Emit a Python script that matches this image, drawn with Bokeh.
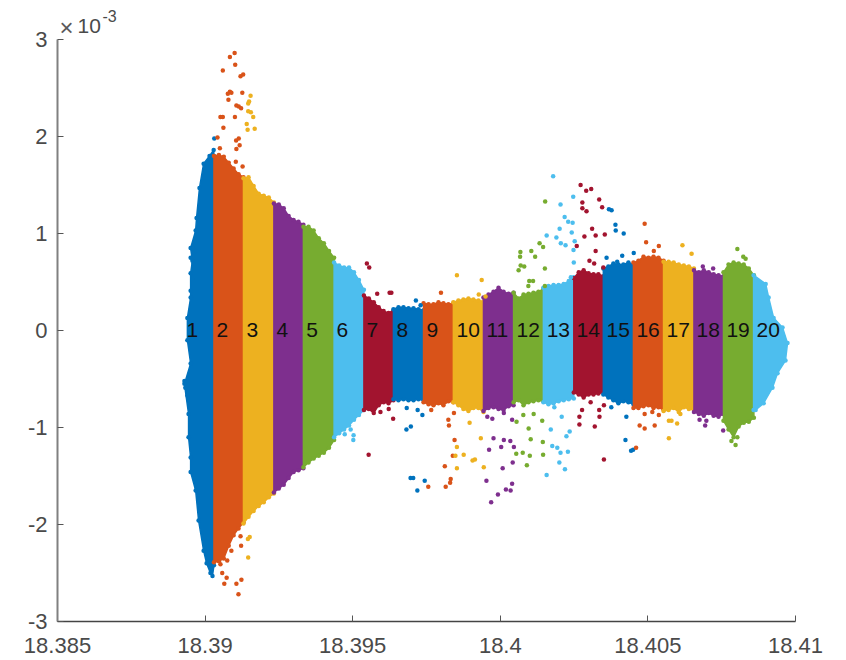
import numpy as np
from bokeh.plotting import figure
from bokeh.models import Range1d, FixedTicker, Label
from bokeh.core.properties import value
from bokeh.embed import file_html
from bokeh.resources import INLINE

x_ticks = [18.385, 18.39, 18.395, 18.4, 18.405, 18.41]
x_tick_labels = ["18.385", "18.39", "18.395", "18.4", "18.405", "18.41"]
y_ticks = [-3, -2, -1, 0, 1, 2, 3]
y_tick_labels = ["-3", "-2", "-1", "0", "1", "2", "3"]

band_colors = ["#0072BD", "#D95319", "#EDB120", "#7E2F8E", "#77AC30", "#4DBEEE", "#A2142F"]

label_x = [18.38937, 18.39039, 18.39140, 18.39242, 18.39343, 18.39445, 18.39547, 18.39648, 18.39750, 18.39852,
           18.39953, 18.40055, 18.40157, 18.40258, 18.40360, 18.40461, 18.40563, 18.40665, 18.40766, 18.40868]
label_text = [str(i) for i in range(1, 21)]

band_edges = [18.39030, 18.39130, 18.39233, 18.39333, 18.39437, 18.39538, 18.39638, 18.39740, 18.39841, 18.39943,
              18.40045, 18.40146, 18.40249, 18.40349, 18.40451, 18.40553, 18.40656, 18.40756, 18.40859]

# outlines of the first and last bands (x, y in units of 1e-3)
outline_x_01 = [18.39030, 18.39029, 18.39015, 18.38995, 18.38981, 18.38971, 18.38968, 18.38951, 18.38957, 18.38951, 18.38951,
                18.38940, 18.38940, 18.38951, 18.38930, 18.38944, 18.38944, 18.38951, 18.38951, 18.38968, 18.38978,
                18.38995, 18.39005, 18.39018, 18.39025, 18.39030]
outline_y_01 = [1.80, 1.86, 1.80, 1.72, 1.47, 1.16, 1.03, 0.85, 0.72, 0.59, 0.34,
                0.13, -0.10, -0.34, -0.55, -0.86, -1.10, -1.31, -1.46, -1.65, -1.96,
                -2.27, -2.40, -2.50, -2.53, -2.42]
outline_x_20 = [18.40858, 18.40899, 18.40909, 18.40926, 18.40956, 18.40973, 18.40966, 18.40939, 18.40922, 18.40892, 18.40865, 18.40858]
outline_y_20 = [0.57, 0.48, 0.34, 0.13, 0.03, -0.13, -0.31, -0.44, -0.59, -0.75, -0.82, -0.82]

top_02 = [1.80, 1.81, 1.79, 1.73, 1.67, 1.61, 1.58]
bot_02 = [-2.39, -2.38, -2.35, -2.22, -2.11, -2.04, -1.98]
top_03 = [1.57, 1.58, 1.49, 1.41, 1.39, 1.37, 1.32]
bot_03 = [-1.99, -1.92, -1.86, -1.81, -1.77, -1.72, -1.68]
top_04 = [1.31, 1.30, 1.26, 1.18, 1.14, 1.12, 1.09]
bot_04 = [-1.67, -1.63, -1.59, -1.52, -1.46, -1.44, -1.42]
top_05 = [1.07, 1.07, 1.03, 0.95, 0.90, 0.82, 0.75]
bot_05 = [-1.41, -1.36, -1.32, -1.29, -1.26, -1.21, -1.13]
top_06 = [0.70, 0.67, 0.65, 0.65, 0.60, 0.52, 0.42]
bot_06 = [-1.10, -1.06, -1.02, -0.98, -0.92, -0.87, -0.82]
top_07 = [0.36, 0.33, 0.29, 0.24, 0.20, 0.18, 0.21]
bot_07 = [-0.82, -0.81, -0.85, -0.77, -0.74, -0.75, -0.72]
top_08 = [0.22, 0.24, 0.24, 0.23, 0.23, 0.22, 0.21]
bot_08 = [-0.71, -0.72, -0.71, -0.72, -0.72, -0.71, -0.72]
top_09 = [0.28, 0.27, 0.27, 0.29, 0.28, 0.27, 0.28]
bot_09 = [-0.74, -0.76, -0.77, -0.75, -0.77, -0.73, -0.74]
top_10 = [0.29, 0.31, 0.32, 0.33, 0.32, 0.31, 0.30]
bot_10 = [-0.74, -0.77, -0.81, -0.83, -0.80, -0.80, -0.84]
top_11 = [0.34, 0.37, 0.40, 0.44, 0.40, 0.38, 0.39]
bot_11 = [-0.83, -0.80, -0.79, -0.81, -0.82, -0.78, -0.77]
top_12 = [0.39, 0.33, 0.37, 0.38, 0.39, 0.40, 0.43]
bot_12 = [-0.74, -0.72, -0.77, -0.74, -0.73, -0.72, -0.73]
top_13 = [0.44, 0.46, 0.47, 0.47, 0.48, 0.51, 0.55]
bot_13 = [-0.74, -0.76, -0.75, -0.73, -0.72, -0.71, -0.70]
top_14 = [0.54, 0.60, 0.62, 0.59, 0.58, 0.58, 0.56]
bot_14 = [-0.64, -0.66, -0.69, -0.66, -0.66, -0.65, -0.64]
top_15 = [0.64, 0.66, 0.69, 0.68, 0.68, 0.70, 0.68]
bot_15 = [-0.66, -0.69, -0.72, -0.75, -0.73, -0.74, -0.76]
top_16 = [0.70, 0.72, 0.76, 0.75, 0.76, 0.75, 0.72]
bot_16 = [-0.80, -0.80, -0.78, -0.77, -0.80, -0.79, -0.82]
top_17 = [0.71, 0.71, 0.70, 0.68, 0.67, 0.66, 0.64]
bot_17 = [-0.83, -0.82, -0.80, -0.84, -0.79, -0.81, -0.82]
top_18 = [0.62, 0.60, 0.62, 0.60, 0.58, 0.57, 0.56]
bot_18 = [-0.84, -0.86, -0.88, -0.85, -0.88, -0.89, -0.86]
top_19 = [0.60, 0.68, 0.70, 0.69, 0.68, 0.64, 0.57]
bot_19 = [-0.93, -1.02, -1.10, -0.99, -0.95, -0.94, -0.90]

# isolated points, per band
sx_01 = [18.39031, 18.38958, 18.38968, 18.38951, 18.38961, 18.38957, 18.38951, 18.38930, 18.38933, 18.38940]
sy_01 = [1.98, 0.85, 0.82, 0.75, 0.69, 0.52, 0.41, -0.52, -0.59, -0.67]
sx_02 = [18.39100, 18.39084, 18.39102, 18.39060, 18.39129, 18.39120, 18.39084, 18.39077, 18.39089, 18.39126, 18.39079,
         18.39106, 18.39114, 18.39122, 18.39060, 18.39052, 18.39101, 18.39062, 18.39042, 18.39114, 18.39105, 18.39117,
         18.39106, 18.39050, 18.39104, 18.39127,
         18.39052, 18.39058, 18.39073, 18.39065, 18.39106, 18.39123, 18.39113, 18.39089, 18.39122, 18.39120, 18.39075]
sy_02 = [2.86, 2.82, 2.74, 2.68, 2.64, 2.62, 2.46, 2.44, 2.45, 2.45, 2.38,
         2.32, 2.31, 2.29, 2.20, 2.20, 2.20, 2.09, 1.99, 1.98, 1.96, 1.91,
         1.87, 1.88, 1.74, 1.69,
         -2.41, -2.50, -2.55, -2.61, -2.61, -2.57, -2.72, -2.27, -2.22, -2.12, -2.37]
sx_03 = [18.39154, 18.39149, 18.39146, 18.39146, 18.39155, 18.39163, 18.39141, 18.39144, 18.39168, 18.39145, 18.39151, 18.39146]
sy_03 = [2.42, 2.36, 2.34, 2.26, 2.25, 2.20, 2.13, 2.07, 2.08, -2.15, -2.13, -2.34]
sx_06 = [18.39493, 18.39503, 18.39502, 18.39473]
sy_06 = [-1.02, -1.08, -1.13, -1.07]
sx_07 = [18.39554, 18.39548, 18.39556, 18.39583, 18.39625, 18.39631, 18.39622, 18.39637, 18.39594]
sy_07 = [-1.28, 0.69, 0.65, 0.38, 0.39, 0.39, -0.81, -0.91, -0.84]
sx_08 = [18.39714, 18.39730, 18.39683, 18.39720, 18.39736, 18.39682, 18.39697, 18.39696, 18.39705, 18.39744, 18.39719]
sy_08 = [0.31, 0.26, -0.80, -0.82, -0.87, -1.02, -0.99, -1.52, -1.52, -1.55, -1.65]
sx_09 = [18.39799, 18.39766, 18.39843, 18.39824, 18.39826, 18.39845, 18.39839, 18.39812, 18.39756, 18.39815, 18.39830, 18.39832]
sy_09 = [0.39, -0.82, -0.85, -0.92, -0.98, -1.13, -1.29, -1.40, -1.61, -1.61, -1.57, -1.53]
sx_10 = [18.39853, 18.39937, 18.39927, 18.39950, 18.39896, 18.39934, 18.39853, 18.39876, 18.39848, 18.39914, 18.39906, 18.39944, 18.39853]
sy_10 = [0.57, 0.52, 0.37, 0.35, -0.95, -1.11, -1.20, -1.28, -1.29, -1.33, -1.34, -1.41, -1.42]
sx_11 = [18.39956, 18.39973, 18.40012, 18.40040, 18.39977, 18.40012, 18.40034, 18.40003, 18.40046, 18.39962, 18.40042,
         18.40008, 18.39953, 18.40040, 18.40019, 18.40035, 18.39992, 18.39969]
sy_11 = [-0.89, -0.91, -0.85, -0.92, -1.11, -1.13, -1.14, -1.20, -1.20, -1.23, -1.36,
         -1.42, -1.55, -1.58, -1.64, -1.65, -1.69, -1.77]
sx_12 = [18.40152, 18.40133, 18.40145, 18.40105, 18.40068, 18.40067, 18.40118, 18.40069, 18.40081, 18.40062, 18.40151,
         18.40098, 18.40111, 18.40095, 18.40151,
         18.40078, 18.40113, 18.40055, 18.40142, 18.40096, 18.40103, 18.40144, 18.40054, 18.40076, 18.40100, 18.40145, 18.40090]
sy_12 = [1.33, 0.90, 0.86, 0.82, 0.81, 0.76, 0.76, 0.67, 0.66, 0.62, 0.64,
         0.51, 0.51, 0.46, 0.46,
         -0.87, -0.86, -0.94, -0.93, -1.01, -1.12, -1.15, -1.27, -1.26, -1.29, -1.28, -1.39]
sx_13 = [18.40179, 18.40247, 18.40204, 18.40218, 18.40230, 18.40245, 18.40201, 18.40242, 18.40157, 18.40190, 18.40252,
         18.40205, 18.40221, 18.40248, 18.40249, 18.40239,
         18.40183, 18.40208, 18.40171, 18.40235, 18.40224, 18.40176, 18.40193, 18.40204, 18.40229, 18.40200, 18.40219, 18.40157]
sy_13 = [1.59, 1.38, 1.30, 1.17, 1.12, 1.11, 1.05, 1.01, 0.98, 0.96, 0.92,
         0.90, 0.88, 0.83, 0.70, 0.55,
         -0.79, -0.89, -1.02, -1.04, -1.09, -1.19, -1.21, -1.26, -1.25, -1.36, -1.43, -1.49]
sx_14 = [18.40272, 18.40291, 18.40308, 18.40278, 18.40335, 18.40278, 18.40292, 18.40311, 18.40285, 18.40323, 18.40259,
         18.40323, 18.40302, 18.40318, 18.40345, 18.40354, 18.40349,
         18.40277, 18.40306, 18.40335, 18.40268, 18.40320, 18.40268, 18.40336, 18.40351, 18.40351]
sy_14 = [1.50, 1.44, 1.46, 1.32, 1.35, 1.26, 1.23, 1.05, 0.97, 0.98, 0.87,
         0.82, 0.72, 0.69, 1.27, 0.99, 0.65,
         -0.82, -0.74, -0.82, -0.89, -0.99, -0.97, -0.89, -0.77, -1.33]
sx_15 = [18.40368, 18.40377, 18.40390, 18.40391, 18.40418, 18.40413, 18.40452, 18.40360, 18.40396,
         18.40376, 18.40427, 18.40424, 18.40443, 18.40450]
sy_15 = [1.25, 1.24, 1.09, 1.03, 1.00, 0.77, 0.80, 0.75, 0.71,
         -0.79, -0.89, -1.13, -1.24, -1.23]
sx_16 = [18.40489, 18.40494, 18.40537, 18.40520, 18.40489, 18.40515, 18.40537, 18.40472, 18.40489, 18.40523, 18.40460]
sy_16 = [1.10, 0.91, 0.87, 0.82, -0.86, -0.84, -0.87, -0.98, -1.01, -0.98, -1.21]
sx_17 = [18.40617, 18.40648, 18.40571, 18.40580, 18.40599, 18.40571, 18.40610]
sy_17 = [0.88, 0.79, -0.93, -0.93, -0.96, -1.11, -0.86]
sx_18 = [18.40686, 18.40721, 18.40675, 18.40698, 18.40694, 18.40755]
sy_18 = [0.66, 0.64, -0.92, -0.93, -0.98, -1.03]
sx_19 = [18.40803, 18.40823, 18.40831, 18.40783, 18.40797, 18.40803]
sy_19 = [0.84, 0.76, 0.74, -1.14, -1.18, -1.10]

tops = [top_02, top_03, top_04, top_05, top_06, top_07, top_08, top_09, top_10, top_11,
        top_12, top_13, top_14, top_15, top_16, top_17, top_18, top_19]
bots = [bot_02, bot_03, bot_04, bot_05, bot_06, bot_07, bot_08, bot_09, bot_10, bot_11,
        bot_12, bot_13, bot_14, bot_15, bot_16, bot_17, bot_18, bot_19]
strays = {1: (sx_01, sy_01), 2: (sx_02, sy_02), 3: (sx_03, sy_03), 6: (sx_06, sy_06), 7: (sx_07, sy_07),
          8: (sx_08, sy_08), 9: (sx_09, sy_09), 10: (sx_10, sy_10), 11: (sx_11, sy_11), 12: (sx_12, sy_12),
          13: (sx_13, sy_13), 14: (sx_14, sy_14), 15: (sx_15, sy_15), 16: (sx_16, sy_16), 17: (sx_17, sy_17),
          18: (sx_18, sy_18), 19: (sx_19, sy_19)}

# the frame reaches to the top of the page so that the exponent text above y=3 is not clipped
p = figure(width=830, height=660, output_backend="svg", toolbar_location=None,
           x_range=Range1d(18.385, 18.41), y_range=Range1d(-3, 3.402),
           min_border_left=57, min_border_right=35, min_border_top=0, min_border_bottom=39,
           background_fill_color="white", border_fill_color="white")
p.grid.visible = False
p.outline_line_color = None

DOT = 4.5


def color_of(band):
    return band_colors[(band - 1) % 7]


def draw_outline(band, xs, ys):
    c = color_of(band)
    p.patch(xs, ys, fill_color=c, line_color=c, line_width=1.5)
    p.scatter(xs, ys, size=DOT, fill_color=c, line_color=None)


draw_outline(1, outline_x_01, outline_y_01)
for i, (t, b) in enumerate(zip(tops, bots)):
    band = i + 2
    c = color_of(band)
    xs = np.linspace(band_edges[i], band_edges[i + 1], len(t))
    p.patch(list(xs) + list(xs[::-1]), list(t) + list(b[::-1]), fill_color=c, line_color=c, line_width=1.5)
    p.scatter(list(xs) + list(xs), list(t) + list(b), size=DOT, fill_color=c, line_color=None)
draw_outline(20, outline_x_20, outline_y_20)

for band, (sx, sy) in strays.items():
    p.scatter(sx, sy, size=DOT, fill_color=color_of(band), line_color=None)

p.text(label_x, [0] * len(label_x), text=label_text, text_font=value("Liberation Sans"), text_font_size="21px",
       text_color="#111111", text_align="left", text_baseline="middle")

for ax, ticks, labels in ((p.xaxis[0], x_ticks, x_tick_labels), (p.yaxis[0], y_ticks, y_tick_labels)):
    ax.ticker = FixedTicker(ticks=ticks)
    ax.major_label_overrides = dict(zip(ticks, labels))
    ax.major_tick_in = 6
    ax.major_tick_out = 0
    ax.minor_tick_in = 0
    ax.minor_tick_out = 0
    ax.major_label_text_font = "Liberation Sans"
    ax.major_label_text_font_size = "22px"
    ax.major_label_text_color = "#4a4a4a"
    ax.major_tick_line_color = "#555555"

p.xaxis[0].axis_line_color = "#444444"
p.xaxis[0].axis_line_width = 1.5
p.xaxis[0].major_label_standoff = 16
p.yaxis[0].axis_line_color = "#808080"
p.yaxis[0].axis_line_width = 2
p.yaxis[0].major_label_standoff = 10
p.yaxis[0].bounds = (-3, 3)

p.add_layout(Label(x=18.385, y=3, text="×", x_offset=2, y_offset=-2, text_font="Liberation Sans",
                   text_font_size="24px", text_color="#5a5a5a"))
p.add_layout(Label(x=18.385, y=3, text="10", x_offset=20, y_offset=6, text_font="Liberation Sans",
                   text_font_size="21px", text_color="#4a4a4a"))
p.add_layout(Label(x=18.385, y=3, text="-3", x_offset=45, y_offset=17, text_font="Liberation Sans",
                   text_font_size="16px", text_color="#4a4a4a"))

open("out.html", "w").write(file_html(p, INLINE))
